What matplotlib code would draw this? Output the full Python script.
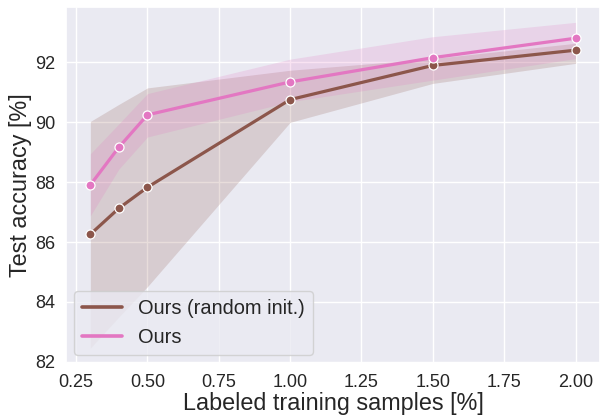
import matplotlib
matplotlib.use("Agg")
import matplotlib.pyplot as plt
import seaborn as sns

sns.set_theme(style="darkgrid")
plt.rcParams["font.family"] = ["Liberation Sans", "DejaVu Sans"]

# Fraction of labeled training samples (%)
samples = [0.3, 0.4, 0.5, 1.0, 1.5, 2.0]

# Ours (random init.): mean accuracy and confidence band
rand_mean = [86.26, 87.13, 87.83, 90.76, 91.90, 92.41]
rand_low = [82.46, 83.50, 84.51, 90.00, 91.30, 91.97]
rand_high = [90.03, 90.60, 91.15, 91.74, 92.13, 92.64]

# Ours: mean accuracy and confidence band
ours_mean = [87.91, 89.17, 90.25, 91.35, 92.16, 92.81]
ours_low = [86.88, 88.44, 89.51, 90.69, 91.41, 92.13]
ours_high = [88.95, 89.95, 90.96, 92.11, 92.86, 93.34]

series = [
    ("Ours (random init.)", rand_mean, rand_low, rand_high, "#8c564b"),
    ("Ours", ours_mean, ours_low, ours_high, "#e377c2"),
]

fig = plt.figure(figsize=(6.01, 4.17), dpi=100)
ax = fig.add_axes([0.11, 0.1295, 0.888, 0.8535])

for label, mean, low, high, color in series:
    ax.fill_between(samples, low, high, color=color, alpha=0.2, linewidth=0)
    ax.plot(samples, mean, color=color, linewidth=2.3, marker="o",
            markersize=6.5, markeredgecolor="white", markeredgewidth=0.9,
            label=label)

ax.set_xticks([0.25, 0.5, 0.75, 1.0, 1.25, 1.5, 1.75, 2.0])
ax.set_xticklabels(["0.25", "0.50", "0.75", "1.00", "1.25", "1.50", "1.75", "2.00"])
ax.set_yticks([82, 84, 86, 88, 90, 92])
ax.tick_params(labelsize=13, pad=2)
ax.set_xlim(0.215, 2.085)
ax.set_ylim(81.96, 93.85)

ax.set_xlabel("Labeled training samples [%]", fontsize=16.8, labelpad=1)
ax.set_ylabel("Test accuracy [%]", fontsize=16.8, labelpad=2)

leg = ax.legend(loc="lower left", fontsize=14.4, handlelength=2.0,
                borderaxespad=0.4, framealpha=0.8)
for line in leg.get_lines():
    line.set_marker("")
    line.set_linewidth(2.6)

fig.savefig("out.png", dpi=100)
